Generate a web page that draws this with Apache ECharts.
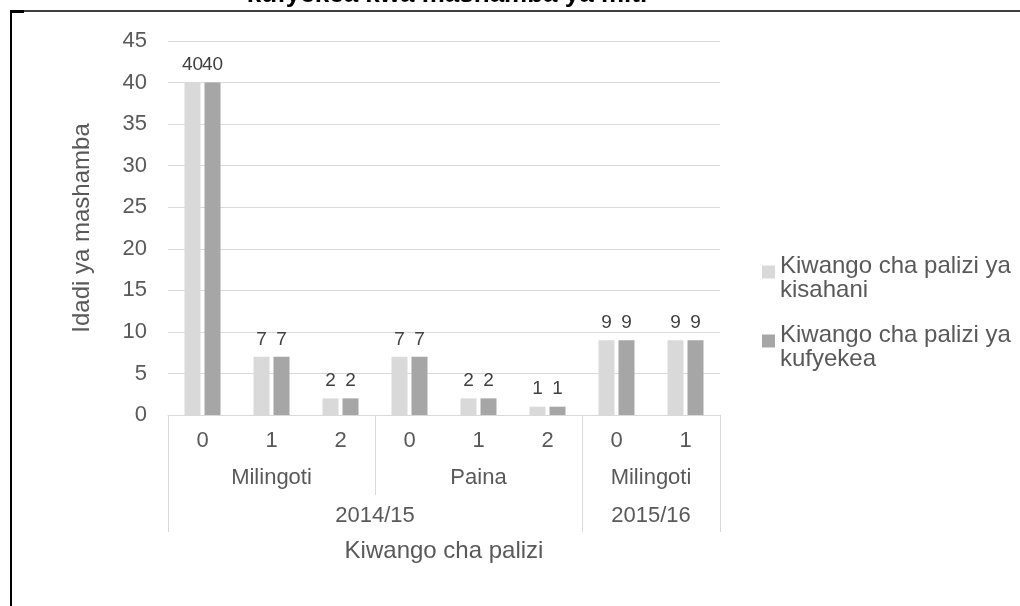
<!DOCTYPE html>
<html>
<head>
<meta charset="utf-8">
<script src="https://cdn.jsdelivr.net/npm/echarts@6/dist/echarts.min.js"></script>
<style>
  html, body { margin: 0; padding: 0; background: #fff; }
  #main { width: 1020px; height: 606px; }
</style>
</head>
<body>
<div id="main"></div>
<script>
// data
var kichwa = 'kufyekea kwa mashamba ya miti';
var categories = ['0', '1', '2', '0', '1', '2', '0', '1'];
var kisahani = [40, 7, 2, 7, 2, 1, 9, 9];
var kufyekea = [40, 7, 2, 7, 2, 1, 9, 9];
// second label row (aina) and third row (msimu), with how many categories each spans
var aina = ['Milingoti', 'Paina', 'Milingoti'];
var ainaSize = [3, 3, 2];
var misimu = ['2014/15', '2015/16'];
var misimuSize = [6, 2];
var yMin = 0, yMax = 45, yStep = 5;

var seriesNames = ['Kiwango cha palizi ya kisahani', 'Kiwango cha palizi ya kufyekea'];
var font = 'Liberation Sans, Arial, sans-serif';

// edges and middles of groups, in category units
function spans(sizes) {
  var acc = 0, edges = [0], mids = [];
  sizes.forEach(function (s) {
    mids.push(acc + s / 2);
    acc += s;
    edges.push(acc);
  });
  return { edges: edges, mids: mids };
}
var ainaPos = spans(ainaSize);
var misimuPos = spans(misimuSize);

function groupAxis(names, pos, margin, tickLen, extra) {
  var ax = {
    type: 'value',
    position: 'bottom',
    min: 0,
    max: categories.length,
    axisLine: { show: false },
    splitLine: { show: false },
    axisTick: { show: true, customValues: pos.edges, length: tickLen, lineStyle: { color: '#d9d9d9' } },
    axisLabel: {
      customValues: pos.mids,
      margin: margin,
      fontSize: 22,
      fontFamily: font,
      color: '#595959',
      formatter: function (v) {
        var i = pos.mids.indexOf(v);
        return i >= 0 ? names[i] : '';
      }
    }
  };
  return Object.assign(ax, extra || {});
}

var chart = echarts.init(document.getElementById('main'));

var barLabel = {
  show: true,
  position: 'top',
  distance: 8,
  fontSize: 19,
  fontFamily: font,
  color: '#404040'
};

chart.setOption({
  animation: false,
  backgroundColor: '#fff',
  textStyle: { fontFamily: font },
  title: {
    text: kichwa,
    left: 442,
    top: -23,
    textAlign: 'center',
    textStyle: { fontSize: 26, fontWeight: 'bold', color: '#000', fontFamily: font }
  },
  graphic: [
    { type: 'line', shape: { x1: 10, y1: 11, x2: 1020, y2: 11 }, style: { stroke: '#000', lineWidth: 1.5 } },
    { type: 'line', shape: { x1: 11, y1: 10, x2: 11, y2: 606 }, style: { stroke: '#000', lineWidth: 2 } },
    { type: 'line', shape: { x1: 10, y1: 11.5, x2: 24, y2: 11.5 }, style: { stroke: '#000', lineWidth: 3 } }
  ],
  grid: { left: 168, right: 300, top: 41, bottom: 191 },
  legend: {
    orient: 'vertical',
    left: 762,
    top: 243,
    padding: 0,
    itemGap: 10,
    itemWidth: 13,
    itemHeight: 13,
    icon: 'rect',
    // last word goes on its own line, with a small spacer on top so the
    // first line sits level with the square
    formatter: function (name) {
      var cut = name.lastIndexOf(' ');
      return '{s| }\n{t|' + name.slice(0, cut) + '}\n{t|' + name.slice(cut + 1) + '}';
    },
    textStyle: {
      fontSize: 24,
      fontFamily: font,
      color: '#595959',
      rich: {
        s: { fontSize: 10, lineHeight: 12, fontFamily: font },
        t: { fontSize: 24, lineHeight: 24, fontFamily: font, color: '#595959' }
      }
    },
    data: seriesNames
  },
  xAxis: [
    {
      type: 'category',
      position: 'bottom',
      data: categories,
      axisLine: { lineStyle: { color: '#d9d9d9' } },
      axisTick: { show: false },
      axisLabel: { margin: 15, fontSize: 22, fontFamily: font, color: '#595959' }
    },
    groupAxis(aina, ainaPos, 52, 80),
    groupAxis(misimu, misimuPos, 90, 117, {
      name: 'Kiwango cha palizi',
      nameLocation: 'middle',
      nameGap: 124,
      nameTextStyle: { fontSize: 24, fontFamily: font, color: '#595959' }
    })
  ],
  yAxis: {
    type: 'value',
    min: yMin,
    max: yMax,
    interval: yStep,
    name: 'Idadi ya mashamba',
    nameLocation: 'middle',
    nameGap: 74,
    nameTextStyle: { fontSize: 24, fontFamily: font, color: '#595959' },
    axisLine: { show: false },
    axisTick: { show: false },
    axisLabel: { margin: 21, fontSize: 22, fontFamily: font, color: '#595959' },
    splitLine: { lineStyle: { color: '#d9d9d9', width: 1 } }
  },
  series: [
    {
      name: seriesNames[0],
      type: 'bar',
      xAxisIndex: 0,
      data: kisahani,
      barWidth: 16,
      barGap: '25%',
      itemStyle: { color: '#d9d9d9' },
      label: barLabel
    },
    {
      name: seriesNames[1],
      type: 'bar',
      xAxisIndex: 0,
      data: kufyekea,
      barWidth: 16,
      barGap: '25%',
      itemStyle: { color: '#a6a6a6' },
      label: barLabel
    }
  ]
});
</script>
</body>
</html>
